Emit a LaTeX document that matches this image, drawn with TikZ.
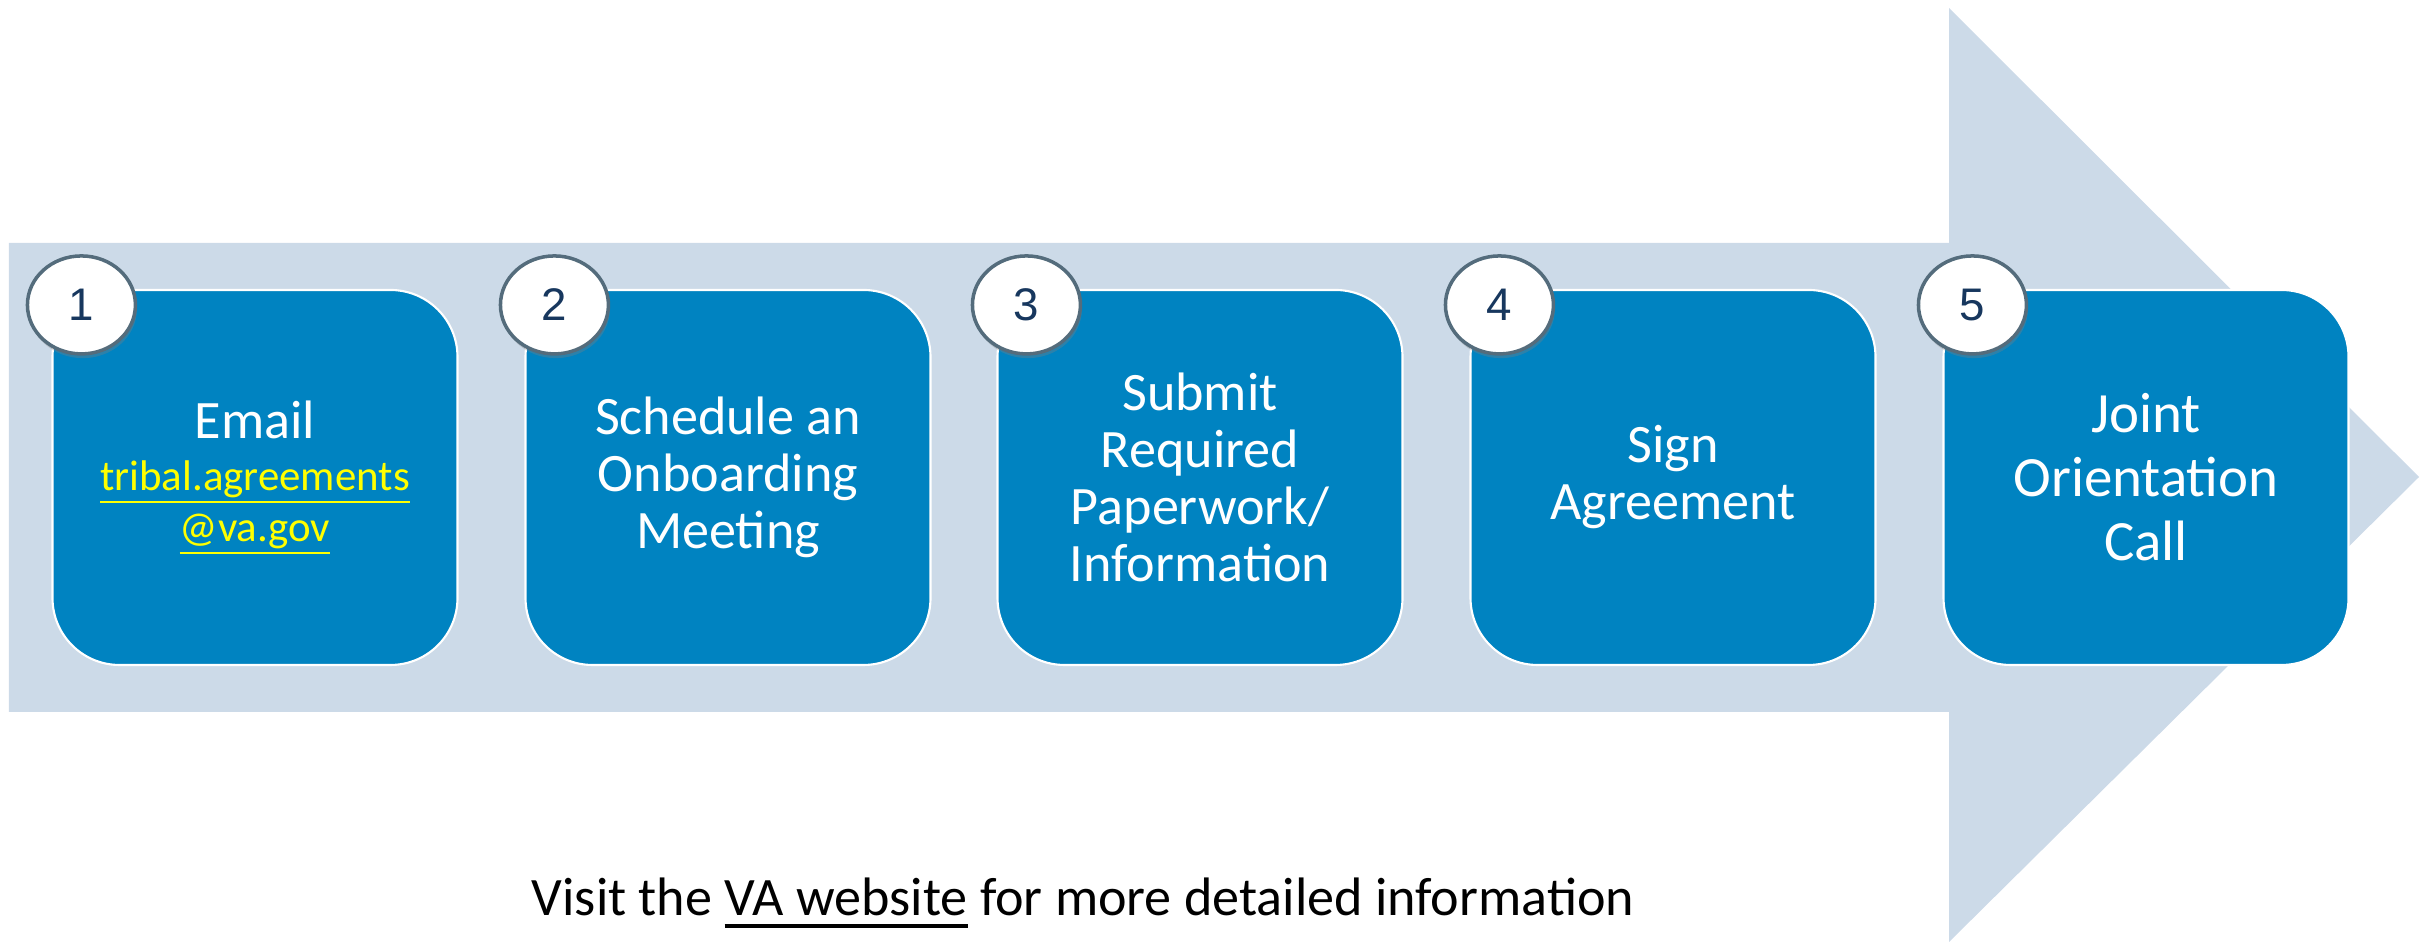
\documentclass[tikz,border=0pt]{standalone}
\usepackage{fontspec}
\setmainfont{Carlito}
\newfontfamily\numfont{Liberation Sans}
\usepackage{tikz}
\usetikzlibrary{shapes,arrows,positioning,shadows}

\definecolor{ArrowBlue}{RGB}{204,218,232}
\definecolor{BoxBlue}{RGB}{0,131,193}
\definecolor{NumNavy}{RGB}{23,55,94}
\definecolor{RimGray}{RGB}{84,108,124}
\definecolor{LinkYellow}{RGB}{255,255,0}

\newsavebox{\ulbox}
\newcommand{\ulthick}[3]{\sbox{\ulbox}{#3}\rlap{\rule[-#1]{\wd\ulbox}{#2}}\usebox{\ulbox}}
\newcommand{\linktxt}[1]{{\fontsize{12.2}{13.4}\selectfont\color{LinkYellow}\ulthick{3.6pt}{0.6pt}{#1}}}
\newcommand{\weblink}[1]{\ulthick{3.4pt}{1.1pt}{#1}}

\begin{document}
\begin{tikzpicture}
		\tikzstyle{StepBox}	= [rectangle, rounded corners=0.67cm, draw=white, line width=0.6pt, fill=BoxBlue, minimum width=4.05cm, minimum height=3.75cm, inner sep=0pt, text=white, align=center, font=\fontsize{15.4}{16.2}\selectfont]
		\tikzstyle{Badge}	= [ellipse, draw=RimGray, line width=1pt, fill=white, minimum width=1.08cm, minimum height=0.98cm, inner sep=0pt, text=NumNavy, font=\numfont\fontsize{13}{13}\selectfont, drop shadow={shadow xshift=0.4pt, shadow yshift=-1.2pt, opacity=0.35}]
		
		\useasboundingbox (0,0) rectangle (24.22,9.45);
		
		% big arrow behind the steps
		\fill [ArrowBlue] (0.09,7.02) -- (19.49,7.02) -- (19.49,9.37) -- (24.19,4.68)
			-- (19.49,0.03) -- (19.49,2.33) -- (0.09,2.33) -- cycle;
		
		\node (s1) at (2.55, 4.675) [StepBox] {Email\\[-1.4pt]\linktxt{tribal.agreements}\\[-1.6pt]\linktxt{@va.gov}};
		\node (s2) at (7.28, 4.675) [StepBox] {Schedule an\\Onboarding\\Meeting};
		\node (s3) at (12.00, 4.675) [StepBox] {Submit\\Required\\Paperwork/\\Information};
		\node (s4) at (16.73, 4.675) [StepBox] {Sign\\Agreement};
		\node (s5) at (21.46, 4.675) [StepBox, font=\fontsize{16.2}{18.2}\selectfont] {Joint\\Orientation\\Call};
		
		\node (n1) at ([shift={(0.30,-0.16)}]s1.north west) [Badge] {1};
		\node (n2) at ([shift={(0.30,-0.16)}]s2.north west) [Badge] {2};
		\node (n3) at ([shift={(0.30,-0.16)}]s3.north west) [Badge] {3};
		\node (n4) at ([shift={(0.30,-0.16)}]s4.north west) [Badge] {4};
		\node (n5) at ([shift={(0.30,-0.16)}]s5.north west) [Badge] {5};
		
		\node (visit) at (10.83, 0.29) [anchor=base, inner sep=0pt, font=\fontsize{15.4}{16.2}\selectfont] {Visit the \weblink{VA website} for more detailed information};
	\end{tikzpicture}
\end{document}
